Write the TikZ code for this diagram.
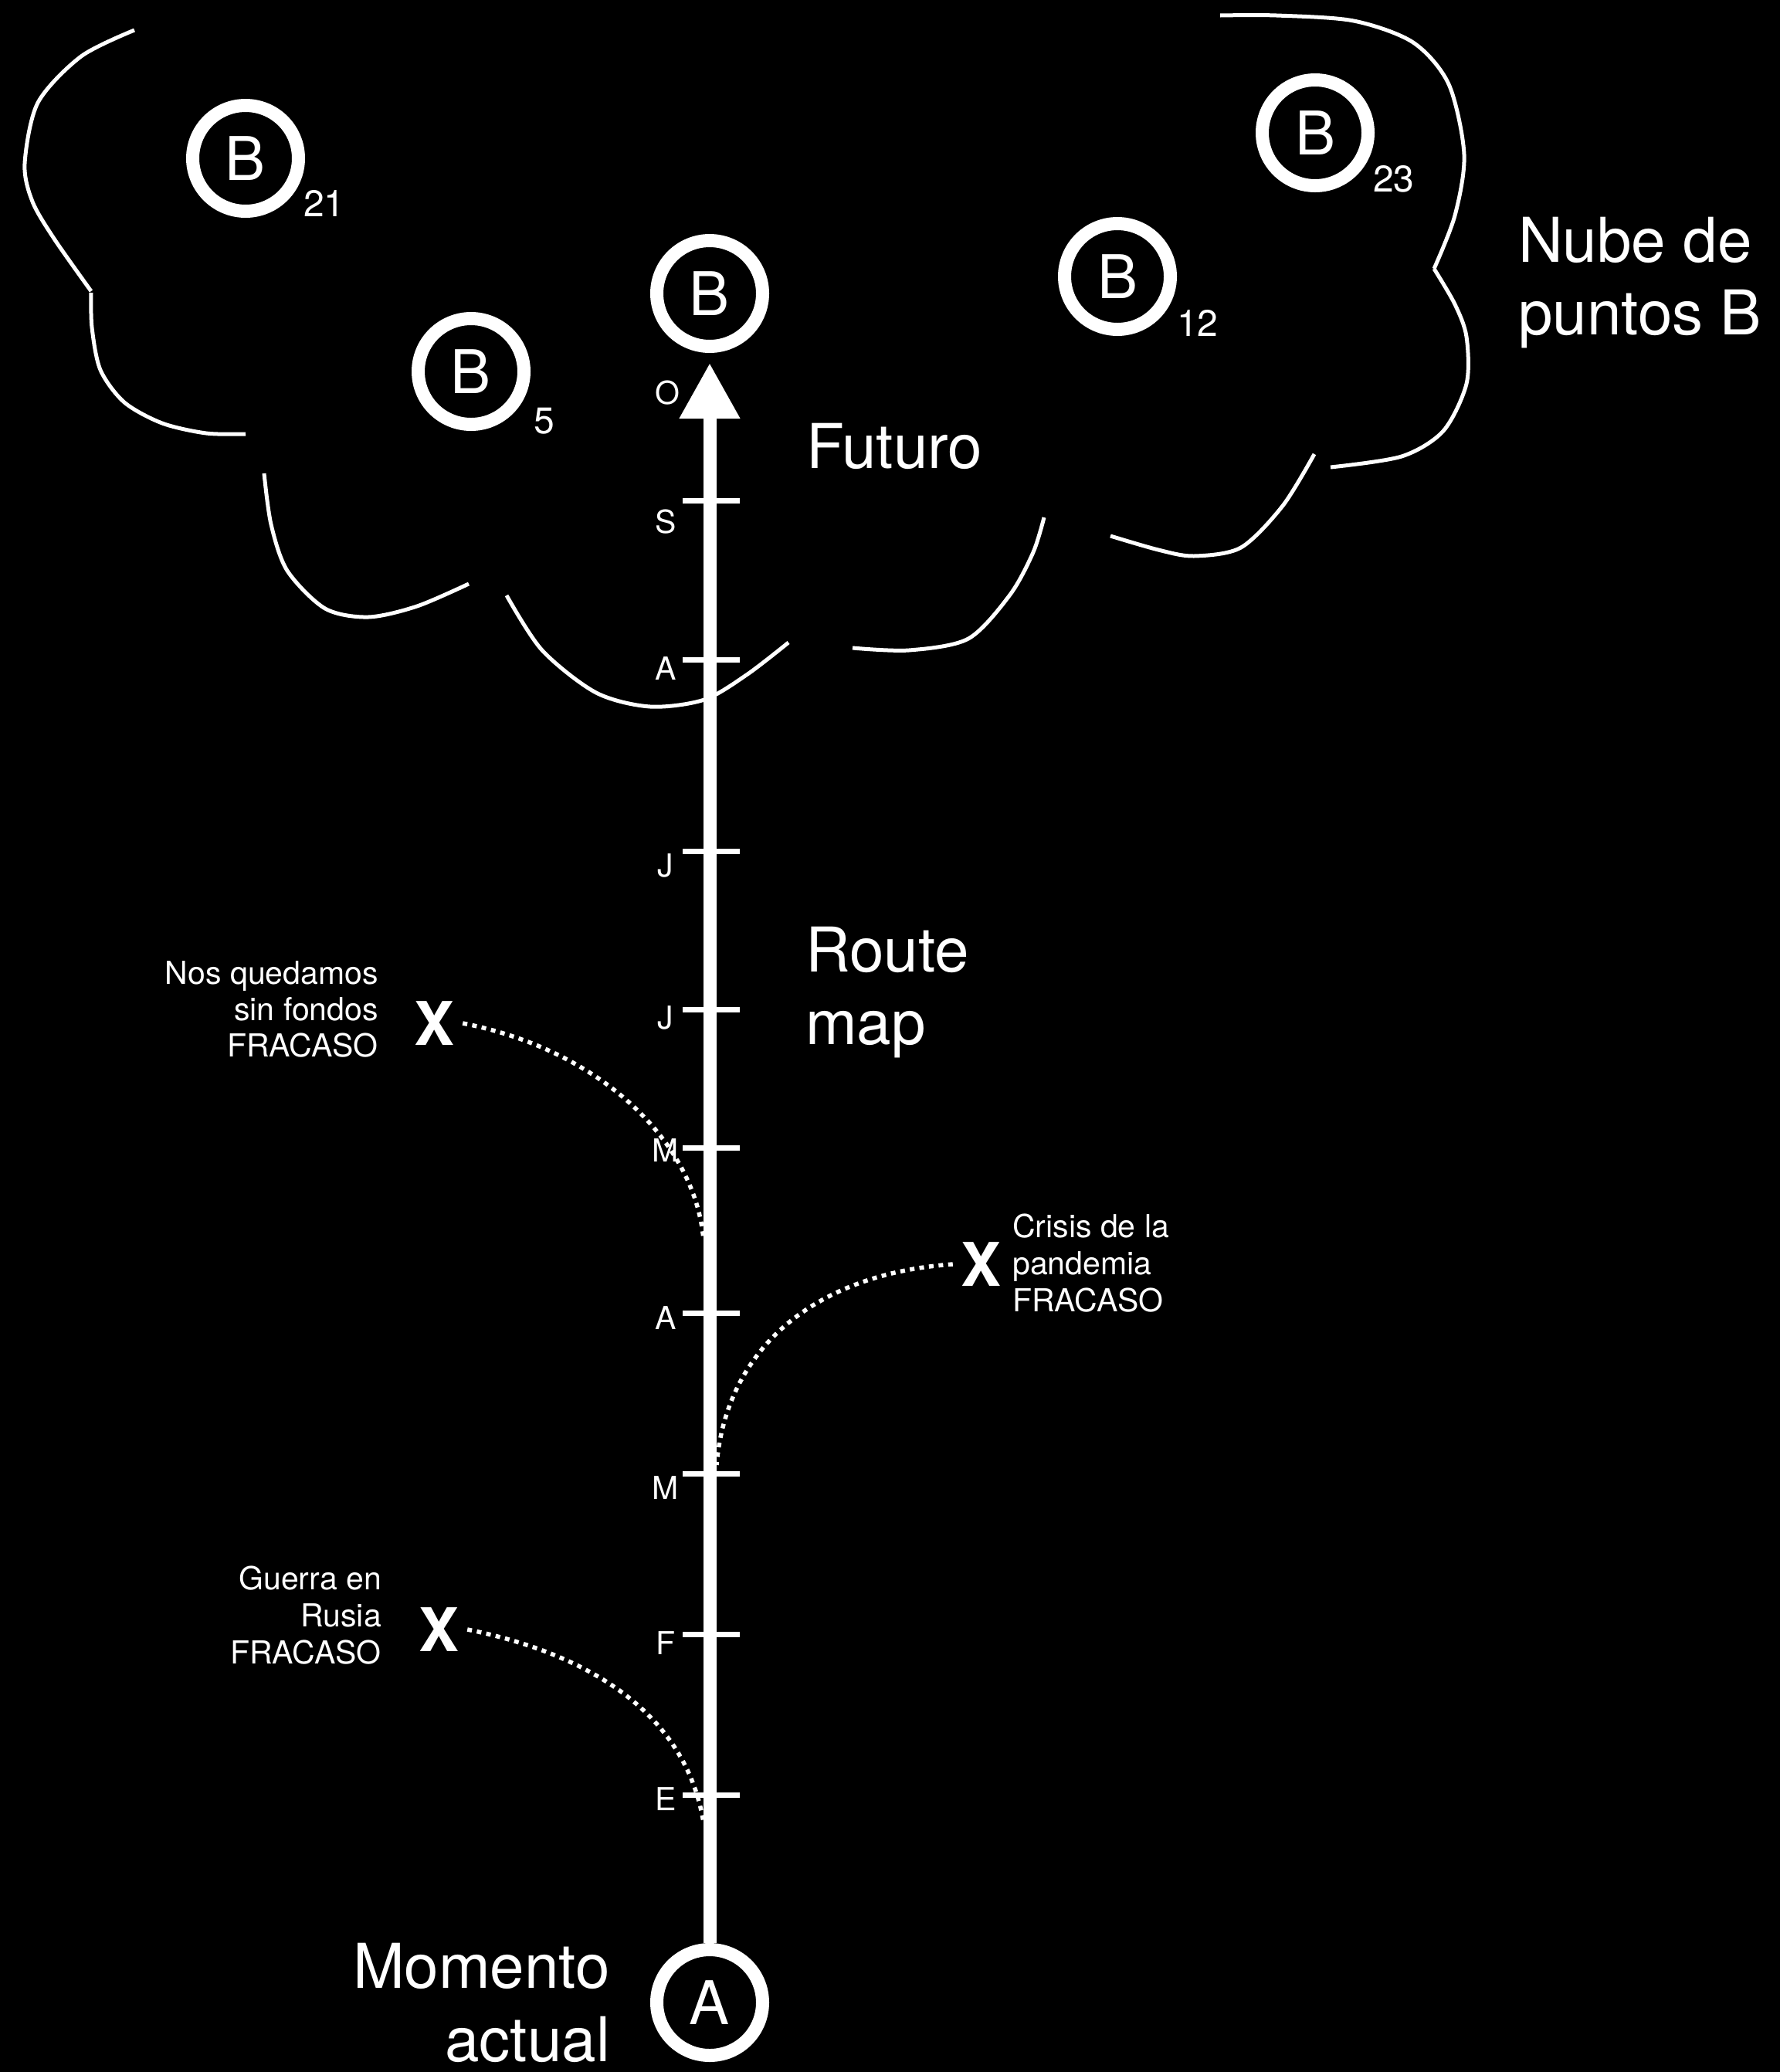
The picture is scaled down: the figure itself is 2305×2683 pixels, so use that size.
\documentclass[tikz,border=0pt]{standalone}
\usepackage{fontspec}
\setmainfont{TeX Gyre Heros}
\usetikzlibrary{arrows.meta}
\begin{document}
\begin{tikzpicture}[x=1pt,y=-1pt,
  bigtext/.style={text=white, inner sep=0pt, font=\fontsize{80}{96}\selectfont},
  smalltext/.style={text=white, inner sep=0pt, font=\fontsize{41}{48}\selectfont},
  subtext/.style={text=white, inner sep=0pt, font=\fontsize{48}{56}\selectfont},
  ring/.style={circle, draw=white, line width=17pt, minimum size=137pt, inner sep=0pt,
    text=white, font=\fontsize{78}{94}\selectfont},
  failmark/.style={text=white, inner sep=10pt, font=\fontsize{78}{94}\selectfont\bfseries},
  cloudline/.style={draw=white, line width=5pt},
  tickmark/.style={draw=white, line width=7pt},
  axisline/.style={draw=white, line width=17pt, -{Triangle[width=74pt,length=72pt]}, shorten >=13pt},
  faildots/.style={draw=white, line width=5.5pt, dash pattern=on 6pt off 6.5pt},
]
% canvas
\useasboundingbox (0,0) rectangle (2305,2683);
\fill[black] (0,0) rectangle (2305,2683);

% cloud of possible destinations
\draw[cloudline] plot[smooth] coordinates {(174,39) (105,73) (49,133) (32,212) (42,261) (70,309) (118,377)};
\draw[cloudline] plot[smooth] coordinates {(118,379) (119,424) (130,479) (161,521) (210,548) (267,561) (318,562)};
\draw[cloudline] plot[smooth] coordinates {(342,613) (351,679) (372,739) (421,788) (477,799) (540,785) (607,756)};
\draw[cloudline] plot[smooth] coordinates {(656,771) (702,842) (772,897) (842,915) (912,906) (968,873) (1021,832)};
\draw[cloudline] plot[smooth] coordinates {(1104,839) (1177,842) (1254,827) (1308,770) (1338,715) (1352,670)};
\draw[cloudline] plot[smooth] coordinates {(1438,694) (1500,712) (1546,720) (1607,709) (1661,655) (1702,588)};
\draw[cloudline] plot[smooth] coordinates {(1723,605) (1815,591) (1869,558) (1899,497) (1899,436) (1884,394) (1857,348)};
\draw[cloudline] plot[smooth] coordinates {(1857,348) (1884,279) (1896,200) (1876,109) (1830,55) (1753,27) (1653,20) (1580,20)};

% start and goal points
\node[ring] (A) at (919,2593) {A};
\node[ring] (Bf) at (919,380) {B};
\node[ring] (B21) at (318,205) {B};
\node[subtext, anchor=base west] (s21) at (393,280) {21};
\node[ring] (B5) at (610,481) {B};
\node[subtext, anchor=base west] (s5) at (691,561) {5};
\node[ring] (B12) at (1447,358) {B};
\node[subtext, anchor=base west] (s12) at (1524,435) {12};
\node[ring] (B23) at (1703,172) {B};
\node[subtext, anchor=base west] (s23) at (1778,248) {23};

% time axis with month ticks
\draw[axisline] (A) -- (Bf);
\foreach \ty/\lab/\ly in {648/S/676, 854/A/866, 1102/J/1121, 1307/J/1318, 1486/M/1490,
                         1700/A/1707, 1908/M/1927, 2116/F/2128, 2324/E/2330}{
  \draw[tickmark] (884,\ty) -- (958,\ty);
  \node[smalltext] (tl\ty) at (862,\ly) {\lab};
}
\node[smalltext] (tlO) at (864,509) {O};

% headings
\node[bigtext, anchor=base west] (fut) at (1044,606) {Futuro};
\node[bigtext, anchor=base west] (rm1) at (1043,1258) {Route};
\node[bigtext, anchor=base west] (rm2) at (1043,1352) {map};
\node[bigtext, anchor=base west] (nb1) at (1966,339) {Nube de};
\node[bigtext, anchor=base west] (nb2) at (1966,433) {puntos B};
\node[bigtext, anchor=base east] (mo1) at (790,2574) {Momento};
\node[bigtext, anchor=base east] (mo2) at (790,2669) {actual};

% failure branches
\node[failmark] (X1) at (563,1325) {X};
\node[failmark] (X2) at (1270,1637) {X};
\node[failmark] (X3) at (569,2110) {X};
\coordinate (e1) at (911,1605);
\coordinate (e2) at (928,1897);
\coordinate (e3) at (911,2360);
\draw[faildots] (X1.east) .. controls (780,1360) and (900,1480) .. (e1);
\draw[faildots] (X2.west) .. controls (1050,1650) and (940,1750) .. (e2);
\draw[faildots] (X3.east) .. controls (780,2145) and (890,2230) .. (e3);

\node[smalltext, anchor=base east] (n1) at (490,1274) {Nos quedamos};
\node[smalltext, anchor=base east] (n2) at (490,1321) {sin fondos};
\node[smalltext, anchor=base east] (n3) at (490,1368) {FRACASO};
\node[smalltext, anchor=base west] (c1) at (1311,1602) {Crisis de la};
\node[smalltext, anchor=base west] (c2) at (1311,1650) {pandemia};
\node[smalltext, anchor=base west] (c3) at (1311,1698) {FRACASO};
\node[smalltext, anchor=base east] (g1) at (494,2058) {Guerra en};
\node[smalltext, anchor=base east] (g2) at (494,2106) {Rusia};
\node[smalltext, anchor=base east] (g3) at (494,2154) {FRACASO};
\end{tikzpicture}
\end{document}
